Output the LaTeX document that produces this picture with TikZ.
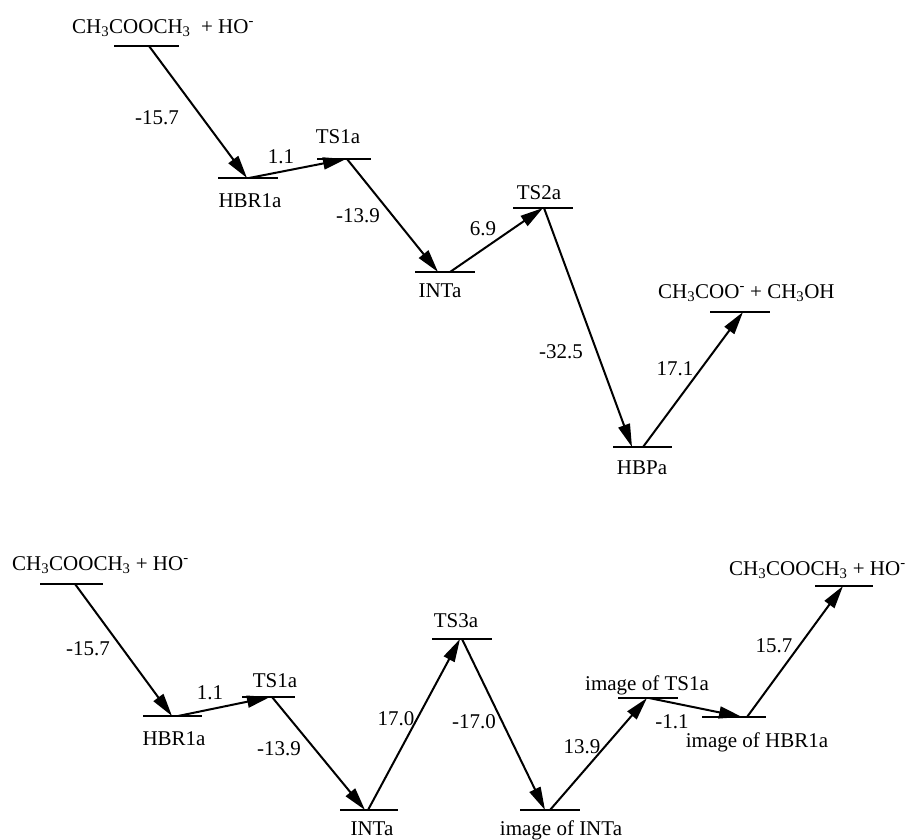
\documentclass[tikz,border=0pt]{standalone}
\usepackage{fontspec}
\setmainfont{Liberation Serif}
\usetikzlibrary{arrows.meta}
\tikzset{
  lvl/.style={line width=2pt},
  arr/.style={line width=2pt, -{Triangle[length=23pt,width=12pt]}},
  lab/.style={anchor=base, inner sep=0pt},
  labw/.style={anchor=base west, inner sep=0pt}
}
\begin{document}
\begin{tikzpicture}[x=1pt,y=-1pt,font=\fontsize{21}{25}\selectfont]
\useasboundingbox (0,0) rectangle (912,839);
% ---------- top diagram: levels ----------
\coordinate (t0a) at (114,46);  \coordinate (t0b) at (179,46);
\coordinate (t1a) at (218,178); \coordinate (t1b) at (278,178);
\coordinate (t2a) at (317,159); \coordinate (t2b) at (371,159);
\coordinate (t3a) at (415,272); \coordinate (t3b) at (475,272);
\coordinate (t4a) at (513,208); \coordinate (t4b) at (573,208);
\coordinate (t5a) at (613,447); \coordinate (t5b) at (672,447);
\coordinate (t6a) at (710,312); \coordinate (t6b) at (770,312);
\foreach \i in {0,...,6} \draw[lvl] (t\i a) -- (t\i b);
% arrow end points
\coordinate (t0s) at (149,46);
\coordinate (t1e) at (247,178); \coordinate (t1s) at (249,178);
\coordinate (t2e) at (346,159); \coordinate (t2s) at (347,159);
\coordinate (t3e) at (438,272); \coordinate (t3s) at (450,272);
\coordinate (t4e) at (543,208); \coordinate (t4s) at (544,208);
\coordinate (t5e) at (632,447); \coordinate (t5s) at (643,447);
\coordinate (t6e) at (743,312);
\draw[arr] (t0s) -- (t1e);
\draw[arr] (t1s) -- (t2e);
\draw[arr] (t2s) -- (t3e);
\draw[arr] (t3s) -- (t4e);
\draw[arr] (t4s) -- (t5e);
\draw[arr] (t5s) -- (t6e);
% labels
\node[labw] (tR) at (72,33) {CH\textsubscript{3}COOCH\textsubscript{3}\ \ + HO\textsuperscript{-}};
\node[lab] (te1) at (157,124) {-15.7};
\node[lab] (tHBR) at (250,207) {HBR1a};
\node[lab] (te2) at (281,163) {1.1};
\node[lab] (tTS1) at (338,143) {TS1a};
\node[lab] (te3) at (358,222) {-13.9};
\node[lab] (tINT) at (440,297) {INTa};
\node[lab] (te4) at (483,235) {6.9};
\node[lab] (tTS2) at (539,199) {TS2a};
\node[lab] (te5) at (561,358) {-32.5};
\node[lab] (tHBP) at (642,474) {HBPa};
\node[lab] (te6) at (675,375) {17.1};
\node[labw] (tP) at (658,298) {CH\textsubscript{3}COO\textsuperscript{-} + CH\textsubscript{3}OH};
% ---------- bottom diagram: levels ----------
\coordinate (b0a) at (40,584);  \coordinate (b0b) at (103,584);
\coordinate (b1a) at (143,716); \coordinate (b1b) at (202,716);
\coordinate (b2a) at (242,697); \coordinate (b2b) at (295,697);
\coordinate (b3a) at (340,810); \coordinate (b3b) at (398,810);
\coordinate (b4a) at (432,639); \coordinate (b4b) at (492,639);
\coordinate (b5a) at (520,810); \coordinate (b5b) at (580,810);
\coordinate (b6a) at (618,698); \coordinate (b6b) at (678,698);
\coordinate (b7a) at (702,717); \coordinate (b7b) at (766,717);
\coordinate (b8a) at (815,586); \coordinate (b8b) at (873,586);
\foreach \i in {0,...,8} \draw[lvl] (b\i a) -- (b\i b);
\coordinate (b0s) at (75,584);
\coordinate (b1e) at (172,716); \coordinate (b1s) at (178,716);
\coordinate (b2e) at (270,697); \coordinate (b2s) at (272,697);
\coordinate (b3e) at (365,810); \coordinate (b3s) at (368,810);
\coordinate (b4e) at (460,639); \coordinate (b4s) at (462,639);
\coordinate (b5e) at (545,810); \coordinate (b5s) at (550,810);
\coordinate (b6e) at (647,698); \coordinate (b6s) at (649,698);
\coordinate (b7e) at (742,717); \coordinate (b7s) at (747,717);
\coordinate (b8e) at (843,586);
\draw[arr] (b0s) -- (b1e);
\draw[arr] (b1s) -- (b2e);
\draw[arr] (b2s) -- (b3e);
\draw[arr] (b3s) -- (b4e);
\draw[arr] (b4s) -- (b5e);
\draw[arr] (b5s) -- (b6e);
\draw[arr] (b6s) -- (b7e);
\draw[arr] (b7s) -- (b8e);
\node[labw] (bR) at (12,570) {CH\textsubscript{3}COOCH\textsubscript{3} + HO\textsuperscript{-}};
\node[lab] (be1) at (88,655) {-15.7};
\node[lab] (bHBR) at (174,745) {HBR1a};
\node[lab] (be2) at (210,699) {1.1};
\node[lab] (bTS1) at (275,687) {TS1a};
\node[lab] (be3) at (279,755) {-13.9};
\node[lab] (bINT) at (372,835) {INTa};
\node[lab] (be4) at (396,725) {17.0};
\node[lab] (bTS3) at (456,627) {TS3a};
\node[lab] (be5) at (474,728) {-17.0};
\node[lab] (bIINT) at (561,835) {image of INTa};
\node[lab] (be6) at (582,753) {13.9};
\node[lab] (bITS1) at (647,690) {image of TS1a};
\node[lab] (be7) at (672,728) {-1.1};
\node[lab] (bIHBR) at (757,747) {image of HBR1a};
\node[lab] (be8) at (774,652) {15.7};
\node[labw] (bP) at (729,575) {CH\textsubscript{3}COOCH\textsubscript{3} + HO\textsuperscript{-}};
\end{tikzpicture}
\end{document}
